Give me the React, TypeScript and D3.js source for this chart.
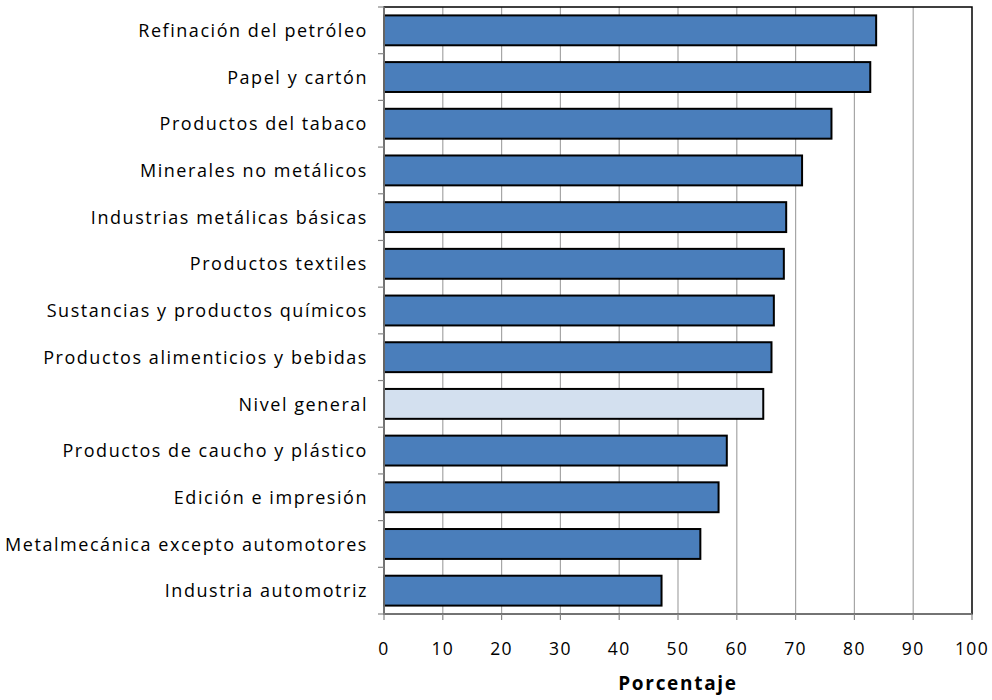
import React from "react";
import * as d3 from "d3";

const categories = [
  "Refinación del petróleo",
  "Papel y cartón",
  "Productos del tabaco",
  "Minerales no metálicos",
  "Industrias metálicas básicas",
  "Productos textiles",
  "Sustancias y productos químicos",
  "Productos alimenticios y bebidas",
  "Nivel general",
  "Productos de caucho y plástico",
  "Edición e impresión",
  "Metalmecánica excepto automotores",
  "Industria automotriz",
];
const values = [83.7, 82.7, 76.1, 71.1, 68.4, 68.0, 66.3, 65.9, 64.5, 58.3, 56.9, 53.8, 47.2];
const highlight = "Nivel general";
const xTicks = [0, 10, 20, 30, 40, 50, 60, 70, 80, 90, 100];
const xTitle = "Porcentaje";

export default function App() {
  const W = 992, H = 700;
  const left = 384, right = 972, top = 7, bottom = 614;
  const x = d3.scaleLinear().domain([0, 100]).range([left, right]);
  const y = d3.scaleBand<string>().domain(categories).range([top, bottom]).paddingInner(0.36).paddingOuter(0.18);
  const step = (bottom - top) / categories.length;
  const font = "'Open Sans', Lato, sans-serif";
  return (
    <svg width={W} height={H} style={{ position: "absolute", left: 0, top: 0 }} fontFamily={font}>
      <rect x={0} y={0} width={W} height={H} fill="#fff" />
      {xTicks.slice(1, -1).map((t) => (
        <line key={t} x1={x(t)} x2={x(t)} y1={top} y2={bottom} stroke="#a6a6a6" strokeWidth={1.2} />
      ))}
      <rect x={left} y={top} width={right - left} height={bottom - top} fill="none" stroke="#000" strokeWidth={1.5} />
      {categories.map((c, i) => (
        <rect
          key={c}
          x={x(0)}
          y={y(c)!}
          width={x(values[i]) - x(0)}
          height={y.bandwidth()}
          fill={c === highlight ? "#d3e0ef" : "#4a7ebb"}
          stroke="#000"
          strokeWidth={2}
        />
      ))}
      {/* axes */}
      <line x1={left} x2={left} y1={top} y2={bottom} stroke="#868686" strokeWidth={1.5} />
      <line x1={left} x2={right} y1={bottom} y2={bottom} stroke="#868686" strokeWidth={1.5} />
      {d3.range(categories.length + 1).map((i) => (
        <line key={i} x1={left - 6} x2={left} y1={top + i * step} y2={top + i * step} stroke="#868686" strokeWidth={1.2} />
      ))}
      {xTicks.map((t) => (
        <line key={t} x1={x(t)} x2={x(t)} y1={bottom} y2={bottom + 6} stroke="#868686" strokeWidth={1.2} />
      ))}
      {categories.map((c) => (
        <text key={c} x={368} y={y(c)! + y.bandwidth() / 2} dy="0.37em" textAnchor="end" fontSize={18} letterSpacing={1.55} fill="#000">
          {c}
        </text>
      ))}
      {xTicks.map((t) => (
        <text key={t} x={x(t)} y={655} textAnchor="middle" fontSize={17.5} letterSpacing={1.4} fill="#000">
          {t}
        </text>
      ))}
      <text x={(left + right) / 2} y={690} textAnchor="middle" fontSize={19} fontWeight="bold" letterSpacing={1.7} fill="#000">
        {xTitle}
      </text>
    </svg>
  );
}
